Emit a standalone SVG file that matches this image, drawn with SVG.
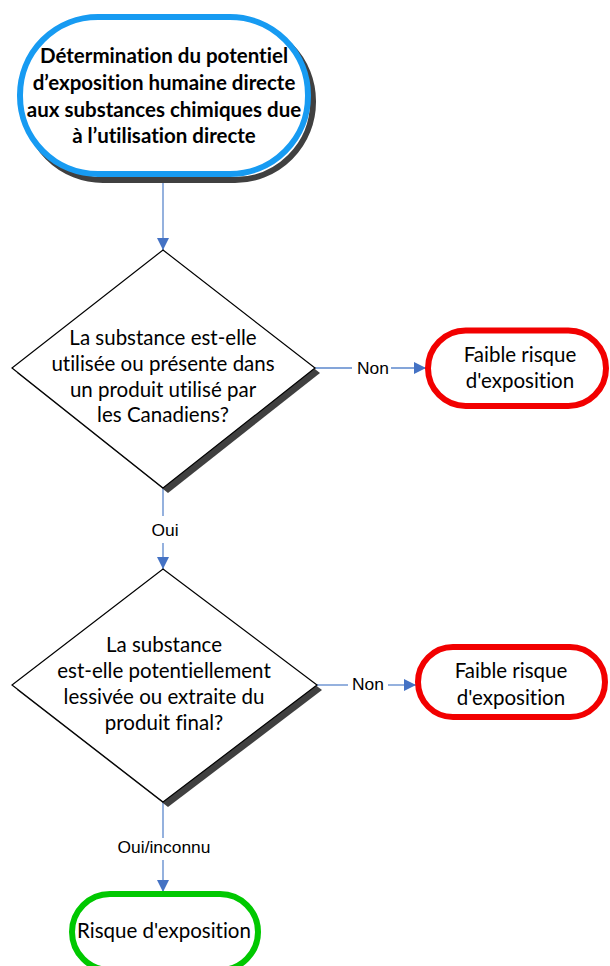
<svg xmlns="http://www.w3.org/2000/svg" width="610" height="966" viewBox="0 0 610 966">
<defs>
<style>
text{font-variant-ligatures:none;font-feature-settings:"liga" 0,"clig" 0}
.body{font-family:Lato,"Liberation Sans",sans-serif;font-size:20.5px;fill:#000;text-anchor:middle}
.title{font-family:Lato,"Liberation Sans",sans-serif;font-size:20.5px;font-weight:bold;fill:#000;text-anchor:middle}
.lbl{font-family:"Liberation Sans",Arial,sans-serif;font-size:17.4px;fill:#000;text-anchor:middle}
.line{stroke:#5b87cc;stroke-width:1.3;fill:none}
.diamond{fill:#fff;stroke:#000;stroke-width:1.2}
.shadow{fill:#404040}
</style>
<marker id="arr" viewBox="0 0 10 10" refX="10" refY="5" markerWidth="12" markerHeight="12" markerUnits="userSpaceOnUse" orient="auto">
<path d="M0,0 L10,5 L0,10 Z" fill="#4472c4"/>
</marker>
</defs>
<rect width="610" height="966" fill="#fff"/>

<g id="connectors">
<line class="line" x1="163" y1="177" x2="163" y2="250" stroke="#8eaee0" marker-end="url(#arr)"/>
<line class="line" x1="315" y1="368" x2="352" y2="368"/>
<line class="line" x1="391" y1="368" x2="426" y2="368" marker-end="url(#arr)"/>
<line class="line" x1="163" y1="488" x2="163" y2="516"/>
<line class="line" x1="163" y1="543" x2="163" y2="569" marker-end="url(#arr)"/>
<line class="line" x1="317" y1="685" x2="348" y2="685"/>
<line class="line" x1="388" y1="685" x2="416" y2="685" marker-end="url(#arr)"/>
<line class="line" x1="163" y1="802" x2="163" y2="838"/>
<line class="line" x1="163" y1="860" x2="163" y2="892" marker-end="url(#arr)"/>
<text class="lbl" x="373" y="374">Non</text>
<text class="lbl" x="165" y="536">Oui</text>
<text class="lbl" x="368" y="690">Non</text>
<text class="lbl" x="164" y="853">Oui/inconnu</text>
</g>

<g id="start">
<rect x="25" y="23" width="288" height="157" rx="78" ry="78" fill="none" stroke="#404040" stroke-width="6"/>
<rect x="20" y="17" width="288" height="157" rx="78" ry="78" fill="#fff" stroke="#179bf2" stroke-width="6"/>
<text class="title" x="164" y="63">Détermination du potentiel</text>
<text class="title" x="164" y="90">d’exposition humaine directe</text>
<text class="title" x="164" y="117">aux substances chimiques due</text>
<text class="title" x="164" y="143">à l’utilisation directe</text>
</g>

<g id="decision1">
<polygon class="shadow" points="168,255 320,373 168,493 17,373"/>
<polygon class="diamond" points="163,250 315,368 163,488 12,368"/>
<text class="body" x="163" y="345">La substance est-elle</text>
<text class="body" x="163" y="371">utilisée ou présente dans</text>
<text class="body" x="163" y="397">un produit utilisé par</text>
<text class="body" x="163" y="422">les Canadiens?</text>
</g>

<g id="low1">
<rect x="428" y="330.5" width="178" height="75.5" rx="37.7" ry="37.7" fill="#fff" stroke="#f20000" stroke-width="6"/>
<text class="body" x="520" y="362">Faible risque</text>
<text class="body" x="520" y="388">d'exposition</text>
</g>

<g id="decision2">
<polygon class="shadow" points="168,574 322,690 168,807 17,690"/>
<polygon class="diamond" points="163,569 317,685 163,802 12,685"/>
<text class="body" x="164" y="652">La substance</text>
<text class="body" x="164" y="678">est-elle potentiellement</text>
<text class="body" x="164" y="704">lessivée ou extraite du</text>
<text class="body" x="164" y="730">produit final?</text>
</g>

<g id="low2">
<rect x="418" y="647" width="187" height="70" rx="35" ry="35" fill="#fff" stroke="#f20000" stroke-width="6"/>
<text class="body" x="511" y="678">Faible risque</text>
<text class="body" x="511" y="705">d'exposition</text>
</g>

<g id="risk">
<rect x="72" y="894" width="186" height="76" rx="38" ry="38" fill="#fff" stroke="#00c800" stroke-width="6"/>
<text class="body" x="164" y="938">Risque d'exposition</text>
</g>
</svg>
